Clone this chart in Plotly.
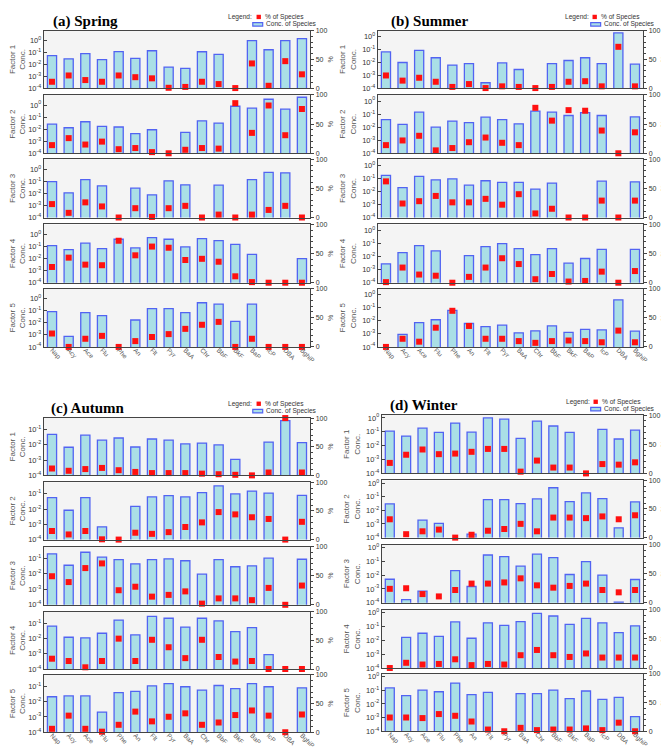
import plotly.graph_objects as go

categories = ["Nap", "Acy", "Ace", "Flu", "Phe", "An", "Flt", "Pyr", "BaA",
              "Chr", "BbF", "BkF", "BaP", "IcP", "DBA", "BghiP"]

season_titles = ["(a) Spring", "(b) Summer", "(c) Autumn", "(d) Winter"]

# Concentration of species (log axis), one row per factor (1..5)
spring_conc = [
    [5.4e-2, 2.9e-2, 7.9e-2, 2.5e-2, 1.2e-1, 3.2e-2, 1.4e-1, 5.9e-3, 4.6e-3, 1.15e-1, 6.9e-2, None, 1.0, 1.7e-1, 1.0, 1.5],
    [2.6e-2, 1.3e-2, 4.1e-2, 1.7e-2, 1.5e-2, 4.2e-3, 8.9e-3, None, 5.4e-3, 4.9e-2, 3.2e-2, 7.9e-1, 5.5e-1, 3.0, 4.5e-1, 4.4],
    [9.5e-2, 1.1e-2, 1.4e-1, 4.2e-2, None, 2.7e-2, 7.6e-3, 1.1e-1, 5.1e-2, None, 4.8e-2, None, 1.4e-1, 5.4e-1, 5.0e-1, None],
    [1.2e-1, 5.6e-2, 1.9e-1, 6.8e-2, 4.0e-1, 7.6e-2, 5.5e-1, 4.0e-1, 9.3e-2, 4.5e-1, 3.1e-1, 1.5e-1, 2.2e-2, None, None, 1.0e-2],
    [8.3e-2, 7.4e-4, 6.9e-2, 4.0e-2, None, 1.7e-2, 1.5e-1, 1.5e-1, 6.9e-2, 4.6e-1, 3.5e-1, 1.3e-2, 3.5e-1, None, None, None],
]
summer_conc = [
    [6.5e-2, 9.8e-3, 8.7e-2, 2.3e-2, 6.2e-3, 8.1e-3, 2.6e-4, 9.1e-3, 2.8e-3, None, 8.1e-3, 1.4e-2, 2.3e-2, 8.1e-3, 1.95, 7.2e-3],
    [3.8e-2, 1.6e-2, 1.4e-1, 1.0e-2, 2.9e-2, 2.2e-2, 5.8e-2, 3.8e-2, 1.8e-2, 1.7e-1, 1.4e-1, 7.8e-2, 1.3e-1, 7.8e-2, None, 6.0e-2],
    [1.7e-1, 1.9e-2, 1.4e-1, 7.6e-2, 9.1e-2, 3.0e-2, 6.5e-2, 4.8e-2, 4.8e-2, 1.5e-2, 4.3e-2, None, None, 6.0e-2, None, 5.4e-2],
    [2.8e-3, 2.0e-2, 6.9e-2, 2.7e-2, None, 1.2e-2, 5.8e-2, 9.8e-2, 4.1e-2, 1.4e-2, 4.1e-2, 3.1e-3, 7.1e-3, 3.6e-2, None, 3.6e-2],
    [None, 9.1e-4, 7.2e-3, 1.2e-2, 6.3e-2, 6.2e-3, 3.6e-3, 4.6e-3, 1.2e-3, 1.7e-3, 4.1e-3, 1.3e-3, 2.2e-3, 2.0e-3, 4.0e-1, 1.6e-3],
]
autumn_conc = [
    [4.8e-2, 6.9e-3, 4.3e-2, 2.0e-2, 2.8e-2, 7.2e-3, 2.4e-2, 2.0e-2, 1.15e-2, 1.3e-2, 9.8e-3, 1.1e-3, None, 1.5e-2, 3.8e-1, 1.4e-2],
    [5.6e-2, 8.3e-3, 5.6e-2, 6.8e-4, None, 1.5e-2, 6.2e-2, 7.6e-2, 6.2e-2, 1.2e-1, 3.3e-1, 9.8e-2, 1.5e-1, 1.1e-1, None, 7.9e-2],
    [1.9e-1, 3.5e-2, 2.4e-1, 1.15e-1, 8.1e-2, 4.3e-2, 8.1e-2, 9.1e-2, 6.8e-2, 9.3e-3, 8.1e-2, 2.8e-2, 3.2e-2, 1.0e-1, None, 8.5e-2],
    [6.5e-2, 1.2e-2, 1.1e-2, 2.2e-2, 1.6e-1, 1.7e-2, 2.8e-1, 2.1e-1, 5.6e-2, 2.1e-1, 1.4e-1, 2.8e-2, 5.1e-2, 8.7e-4, None, None],
    [2.1e-2, 2.4e-2, 2.4e-2, 2.1e-3, 3.9e-2, 4.8e-2, 1.1e-1, 1.5e-1, 9.5e-2, 5.8e-2, 1.15e-1, 7.1e-2, 1.5e-1, 9.5e-2, None, 8.1e-2],
]
winter_conc = [
    [1.1e-1, 4.9e-2, 1.8e-1, 8.9e-2, 4.2e-1, 9.3e-2, 1.0, 8.1e-1, 3.3e-2, 5.9e-1, 2.6e-1, 8.9e-2, None, 1.5e-1, 3.0e-2, 1.3e-1],
    [3.0e-2, None, 1.9e-3, 1.1e-3, None, 1.8e-4, 6.0e-2, 6.0e-2, 3.1e-2, 6.8e-2, 4.5e-1, 4.4e-2, 1.9e-1, 7.1e-2, 5.2e-4, 4.1e-2],
    [5.0e-3, 1.7e-4, 6.9e-4, None, 2.1e-2, 1.5e-3, 2.8e-1, 2.1e-1, 4.4e-2, 3.2e-1, 1.8e-1, 1.1e-2, 9.3e-2, 1.0e-2, 1.1e-4, 4.8e-3],
    [None, 1.6e-2, 3.2e-2, 1.9e-2, 2.1e-1, 1.4e-2, 1.8e-1, 1.2e-1, 2.2e-1, 8.7e-1, 5.6e-1, 1.4e-1, 3.8e-1, 1.8e-1, 3.5e-2, 1.1e-1],
    [1.5e-1, 4.1e-2, 1.05e-1, 7.9e-2, 3.4e-1, 4.9e-2, 7.1e-2, None, 5.8e-2, 5.8e-2, 1.05e-1, 2.5e-2, 8.9e-2, 2.2e-2, 3.0e-2, 1.2e-3],
]

# % of species (right axis), one row per factor (1..5)
spring_pct = [
    [11, 22, 14, 11, 22, 19, 17, 0.5, 2, 11, 7, 0, 43, 4, 47, 24],
    [14, 26, 15, 20, 7, 9, 2, 0, 6, 9, 8, 86, 35, 82, 31, 76],
    [23, 8, 26, 19, 0, 16, 1, 16, 20, 0, 5, 0, 5, 13, 20, 0],
    [27, 43, 31, 30, 72, 47, 62, 60, 39, 41, 36, 11, 1, 0, 0, 0],
    [23, 0, 14, 19, 0, 10, 17, 22, 31, 38, 43, 0, 14, 0, 0, 0],
]
summer_pct = [
    [22, 13, 18, 11, 2, 7, 0, 3, 2, 0, 2, 11, 12, 3, 72, 3],
    [14, 22, 30, 5, 9, 19, 27, 18, 14, 78, 56, 74, 73, 39, 0, 36],
    [62, 24, 28, 37, 26, 26, 32, 22, 40, 7, 15, 0, 0, 29, 0, 29],
    [1, 26, 14, 12, 0, 10, 26, 42, 32, 6, 15, 2, 3, 19, 0, 20],
    [0, 14, 9, 33, 62, 36, 14, 14, 10, 7, 10, 11, 10, 8, 28, 8],
]
autumn_pct = [
    [12, 8, 11, 13, 9, 6, 4, 4, 4, 3, 2, 1, 0, 5, 100, 5],
    [15, 9, 15, 0.5, 0, 12, 10, 13, 22, 30, 48, 44, 39, 36, 0, 31],
    [49, 39, 63, 71, 25, 31, 14, 17, 23, 2, 11, 11, 8, 29, 0, 33],
    [18, 14, 3, 14, 53, 14, 51, 38, 19, 51, 21, 13, 14, 0, 0, 0],
    [6, 29, 6, 1, 13, 36, 19, 27, 33, 13, 17, 30, 38, 29, 0, 31],
]
winter_pct = [
    [18, 32, 41, 33, 34, 37, 42, 42, 3, 22, 10, 10, 0, 16, 15, 19],
    [32, 6, 11, 14, 0, 5, 12, 15, 24, 11, 35, 35, 34, 37, 32, 39],
    [24, 25, 15, 11, 22, 33, 33, 35, 42, 30, 26, 29, 33, 22, 18, 22],
    [0, 9, 6, 7, 15, 5, 7, 6, 22, 31, 22, 19, 25, 18, 18, 18],
    [24, 24, 23, 30, 27, 17, 3, 0, 6, 2, 3, 3, 5, 2, 15, 0],
]

conc_sets = [spring_conc, summer_conc, autumn_conc, winter_conc]
pct_sets = [spring_pct, summer_pct, autumn_pct, winter_pct]
log_top = [0.83, 0.46, -0.25, 0.2]

W, H = 669, 750


def fx(p):
    return p / W


def fy(p):
    return 1 - p / H


panel_x = [(36, 305), (373, 641), (36, 305), (377, 641)]
panel_rows = [
    [(19, 77), (84, 143), (149, 208), (215, 274), (280, 339)],
    [(19, 77), (84, 143), (149, 208), (215, 274), (280, 339)],
    [(411, 469), (476, 534), (541, 600), (607, 665), (671, 729)],
    [(408, 467), (474, 532), (539, 598), (605, 664), (670, 728)],
]

BAR_FILL = "#aadfe6"
BAR_LINE = "#5263f2"
RED = "#ff1010"
AX_COL = "#444444"
TXT_COL = "#333333"
FONT = "Liberation Sans"

sup = {-4: "10<sup>-4</sup>", -3: "10<sup>-3</sup>", -2: "10<sup>-2</sup>",
       -1: "10<sup>-1</sup>", 0: "10<sup>0</sup>"}

fig = go.Figure()
layout = {}

for s in range(4):
    for f in range(5):
        k = s * 5 + f
        xid = "x" if k == 0 else f"x{k + 1}"
        yl_n = 2 * k + 1
        yr_n = 2 * k + 2
        ylid = "y" if yl_n == 1 else f"y{yl_n}"
        yrid = f"y{yr_n}"

        fig.add_trace(go.Bar(
            x=categories, y=conc_sets[s][f], xaxis=xid, yaxis=ylid,
            width=0.55, marker=dict(color=BAR_FILL, line=dict(color=BAR_LINE, width=1.3)),
            showlegend=False))
        fig.add_trace(go.Scatter(
            x=categories, y=pct_sets[s][f], xaxis=xid, yaxis=yrid, mode="markers",
            marker=dict(symbol="square", size=6, color=RED), cliponaxis=False,
            showlegend=False))

        x0, x1 = panel_x[s]
        t, b = panel_rows[s][f]
        xdom = [fx(x0), fx(x1)]
        ydom = [fy(b), fy(t)]

        xkey = "xaxis" if k == 0 else f"xaxis{k + 1}"
        layout[xkey] = dict(
            domain=xdom, anchor=ylid, type="category", range=[-0.5, 15.5],
            showline=True, mirror=True, linecolor=AX_COL, linewidth=1,
            showgrid=False, zeroline=False, ticks="",
            showticklabels=(f == 4), tickangle=45, ticklabelstandoff=-4,
            tickfont=dict(family=FONT, size=6.5, color="#555555"))

        top = log_top[s]
        tv = [10.0 ** e for e in range(-4, 1) if e <= top]
        tt = [sup[e] for e in range(-4, 1) if e <= top]
        ylkey = "yaxis" if yl_n == 1 else f"yaxis{yl_n}"
        layout[ylkey] = dict(
            domain=ydom, anchor=xid, type="log", range=[-4, top],
            tickvals=tv, ticktext=tt, ticks="inside", ticklen=3, tickcolor=AX_COL,
            showline=True, mirror=True, linecolor=AX_COL, linewidth=1,
            showgrid=False, zeroline=False,
            tickfont=dict(family=FONT, size=7.5, color=TXT_COL),
            title=dict(text=f"Factor {f + 1}<br>Conc.", standoff=4,
                       font=dict(family=FONT, size=8, color="#555555")))
        layout[f"yaxis{yr_n}"] = dict(
            overlaying=ylid, anchor=xid, side="right", range=[0, 100],
            tickvals=[0, 50, 100], ticks="outside", ticklen=3, tickcolor=AX_COL,
            minor=dict(dtick=10, ticks="outside", ticklen=2, tickcolor=AX_COL),
            showgrid=False, zeroline=False, showline=False,
            tickfont=dict(family=FONT, size=7, color=TXT_COL),
            title=dict(text="%", standoff=1, font=dict(family=FONT, size=7, color="#555555")))

annotations = []
shapes = []

title_pos = [(43, 10), (384, 10), (41, 401), (383, 398)]
for s in range(4):
    tx, ty = title_pos[s]
    annotations.append(dict(
        text=f"<b>{season_titles[s]}</b>", x=fx(tx), y=fy(ty), xref="paper", yref="paper",
        xanchor="left", yanchor="middle", showarrow=False,
        font=dict(family="Liberation Serif", size=15, color="#000000")))

# legend blocks: (legend-word x, line1 y, square x, rect x0, rect x1, line2 y)
legend_pos = [
    (220, 5.5, 253, 247, 258, 12.5),
    (560, 5.5, 592, 588, 599, 12.5),
    (220, 397, 253, 247, 258, 404),
    (561, 395, 593, 588, 599, 402),
]
LEG_SIZE = 6.6
for (lx, ly1, sqx, rx0, rx1, ly2) in legend_pos:
    annotations.append(dict(
        text="Legend:", x=fx(lx), y=fy(ly1), xref="paper", yref="paper",
        xanchor="left", yanchor="middle", showarrow=False,
        font=dict(family=FONT, size=LEG_SIZE, color=TXT_COL)))
    annotations.append(dict(
        text="% of Species", x=fx(sqx + 4), y=fy(ly1), xref="paper", yref="paper",
        xanchor="left", yanchor="middle", showarrow=False,
        font=dict(family=FONT, size=LEG_SIZE, color=TXT_COL)))
    annotations.append(dict(
        text="Conc. of Species", x=fx(rx1), y=fy(ly2), xref="paper", yref="paper",
        xanchor="left", yanchor="middle", showarrow=False,
        font=dict(family=FONT, size=LEG_SIZE, color=TXT_COL)))
    shapes.append(dict(
        type="rect", xref="paper", yref="paper",
        x0=fx(sqx - 2.2), x1=fx(sqx + 2.2), y0=fy(ly1 - 0.5 + 2.2), y1=fy(ly1 - 0.5 - 2.2),
        fillcolor=RED, line=dict(width=0)))
    shapes.append(dict(
        type="rect", xref="paper", yref="paper",
        x0=fx(rx0), x1=fx(rx1 - 1), y0=fy(ly2 + 1.8), y1=fy(ly2 - 1.8),
        fillcolor=BAR_FILL, line=dict(color=BAR_LINE, width=1.2)))

fig.update_layout(
    width=W, height=H, margin=dict(l=0, r=0, t=0, b=0),
    paper_bgcolor="#ffffff", plot_bgcolor="#f4f4f4",
    barmode="overlay", bargap=0.45,
    annotations=annotations, shapes=shapes,
    font=dict(family=FONT, size=8, color=TXT_COL),
    **layout)

fig.write_html("out.html")
